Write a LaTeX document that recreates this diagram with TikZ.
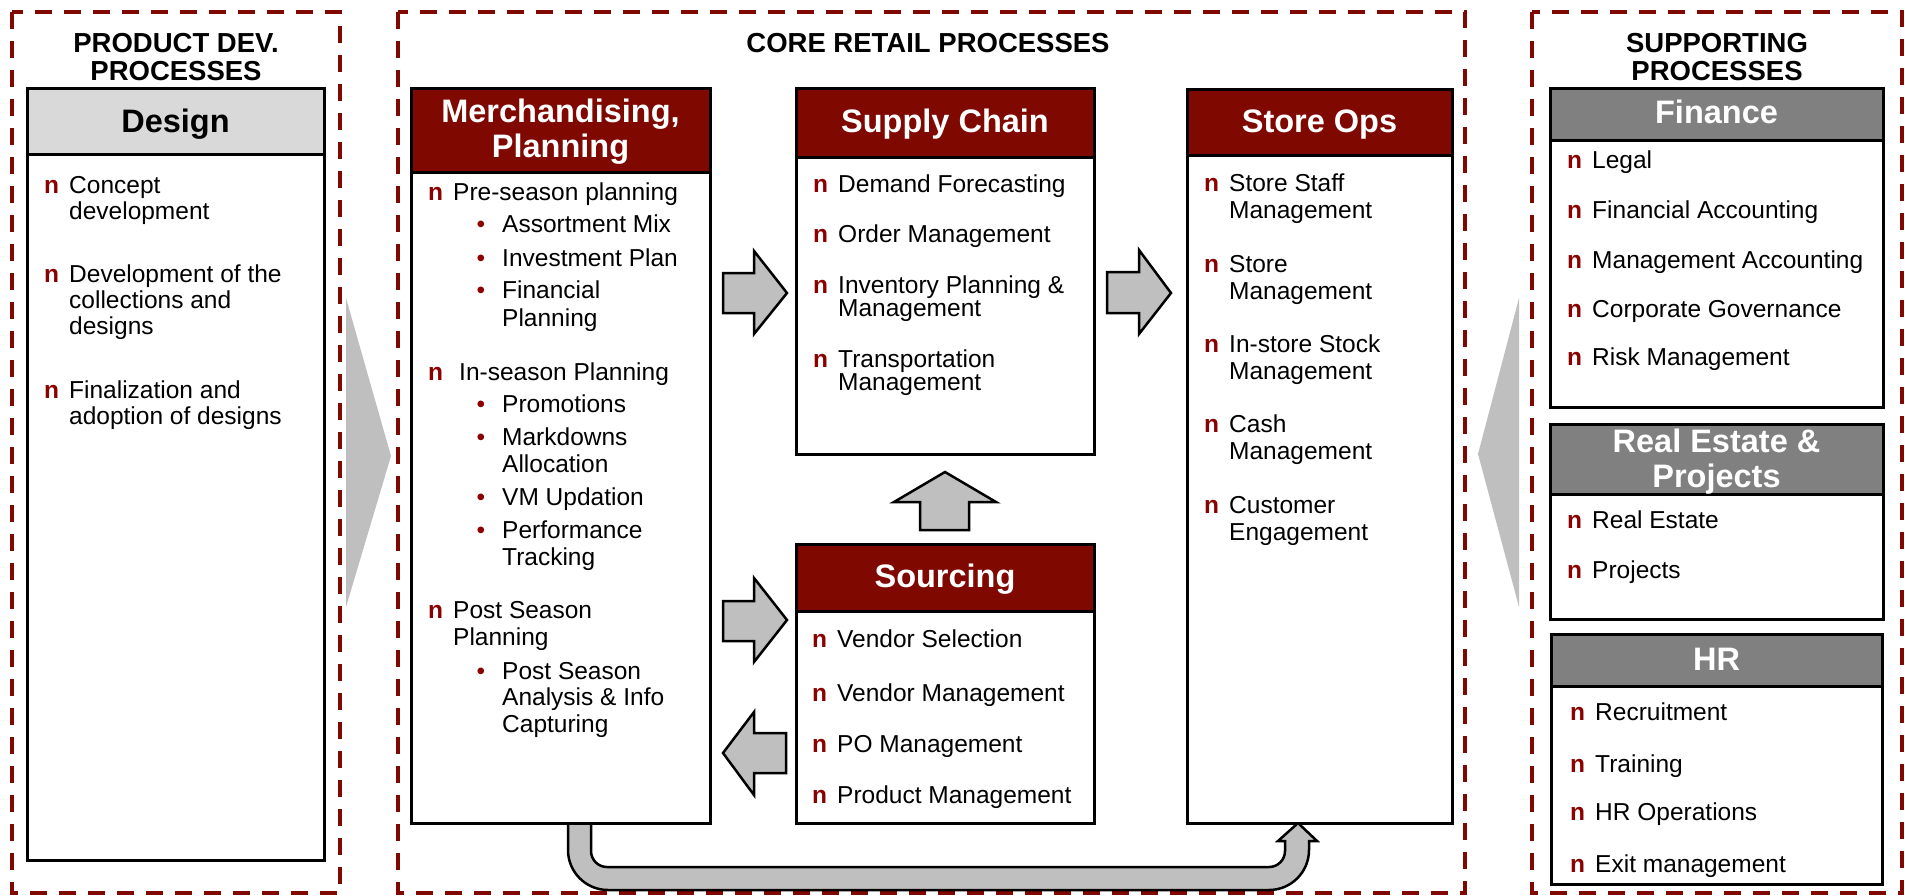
\documentclass[tikz,border=0pt]{standalone}
\usepackage{fontspec}
\setmainfont{Liberation Sans}
\definecolor{dkred}{RGB}{127,8,0}
\definecolor{bulred}{RGB}{139,0,0}
\definecolor{hgray}{RGB}{128,128,128}
\definecolor{lgray}{RGB}{217,217,217}
\definecolor{agray}{RGB}{191,191,191}
\tikzset{
 dashbox/.style={draw=dkred, line width=3.5pt, dash pattern=on 17pt off 12pt},
 box/.style={draw=black, line width=3pt, fill=white, inner sep=0pt, anchor=north west, outer sep=0pt},
 hdr/.style={box, fill=dkred},
 ghdr/.style={box, fill=hgray},
 dhdr/.style={box, fill=lgray},
 htext/.style={text=white, font=\fontsize{32.5}{35}\selectfont\bfseries, inner sep=0pt, anchor=base},
 ttl/.style={font=\fontsize{27.5}{28}\selectfont\bfseries, inner sep=0pt, anchor=base},
 itm/.style={font=\fontsize{24.5}{27}\selectfont, inner sep=0pt, anchor=base west},
 bul/.style={font=\fontsize{24.5}{27}\selectfont\bfseries, text=bulred, inner sep=0pt, anchor=base west},
 dotb/.style={font=\fontsize{24.5}{27}\selectfont, text=bulred, inner sep=0pt, anchor=base},
 blk/.style={draw=black, line width=2.5pt, fill=agray, line join=miter},
 sidetri/.style={fill=agray},
}
\newcommand\li[1]{\hbox{#1}}
\newcommand\entry[5]{\node[bul] (#1b) at (#2,-#4) {n}; \node[itm] (#1) at (#3,-#4) {\vtop{#5}};}
\newcommand\subentry[3]{\node[dotb] (#1b) at (481,-#2) {•}; \node[itm] (#1) at (502,-#2) {\vtop{#3}};}
\begin{document}
\begin{tikzpicture}[x=1pt,y=1pt]
\useasboundingbox (0,0) rectangle (1905,-895);
% dashed group frames
\draw[dashbox] (12,-12) rectangle (340,-893);
\draw[dashbox] (398,-12) rectangle (1465,-893);
\draw[dashbox] (1532,-12) rectangle (1902,-893);
% side triangles
\fill[sidetri] (346,-298) -- (391,-456) -- (346,-607) -- cycle;
\fill[sidetri] (1519,-298) -- (1478,-454) -- (1519,-607) -- cycle;
% titles
\node[ttl] (t1a) at (176,-52) {PRODUCT DEV.};
\node[ttl] (t1b) at (176,-80) {PROCESSES};
\node[ttl] (t2) at (928,-52) {CORE RETAIL PROCESSES};
\node[ttl] (t3a) at (1717,-52) {SUPPORTING};
\node[ttl] (t3b) at (1717,-80) {PROCESSES};
% U-shaped arrow from Merchandising to Store Ops
\draw[blk] (568,-823) -- (568,-850) arc[start angle=180, end angle=270, radius=40pt]
  -- (1269,-890) arc[start angle=270, end angle=360, radius=40pt]
  -- (1309,-841) -- (1317,-841) -- (1298,-823) -- (1278,-841) -- (1285,-841)
  -- (1285,-851) arc[start angle=0, end angle=-90, radius=16pt]
  -- (607,-867) arc[start angle=270, end angle=180, radius=16pt]
  -- (591,-823) -- cycle;
% Design
\node[box, minimum width=297pt, minimum height=772pt] (design) at (27,-88) {};
\node[dhdr, minimum width=297pt, minimum height=66pt] (designh) at (27,-88) {};
\node[htext, text=black] (designt) at (175.5,-132) {Design};
\entry{d1}{44}{69}{193}{\baselineskip=26pt \li{Concept}\li{development}}
\entry{d2}{44}{69}{282}{\baselineskip=26pt \li{Development of the}\li{collections and}\li{designs}}
\entry{d3}{44}{69}{398}{\baselineskip=26pt \li{Finalization and}\li{adoption of designs}}
% Merchandising
\node[box, minimum width=299pt, minimum height=735pt] (merch) at (411,-88) {};
\node[hdr, minimum width=299pt, minimum height=84pt] (merchh) at (411,-88) {};
\node[htext] (mt1) at (560.5,-122) {Merchandising,};
\node[htext] (mt2) at (560.5,-157) {Planning};
\entry{m1}{428}{453}{200}{\li{Pre-season planning}}
\subentry{m1a}{232}{\li{Assortment Mix}}
\subentry{m1b}{266}{\li{Investment Plan}}
\subentry{m1c}{298}{\baselineskip=28pt \li{Financial}\li{Planning}}
\entry{m2}{428}{459}{380}{\li{In-season Planning}}
\subentry{m2a}{412}{\li{Promotions}}
\subentry{m2b}{445}{\li{Markdowns}\li{Allocation}}
\subentry{m2c}{505}{\li{VM Updation}}
\subentry{m2d}{538}{\li{Performance}\li{Tracking}}
\entry{m3}{428}{453}{618}{\li{Post Season}\li{Planning}}
\subentry{m3a}{679}{\baselineskip=26.5pt \li{Post Season}\li{Analysis \& Info}\li{Capturing}}
% Supply chain
\node[box, minimum width=298pt, minimum height=366pt] (sc) at (796,-88) {};
\node[hdr, minimum width=298pt, minimum height=69pt] (sch) at (796,-88) {};
\node[htext] (sct) at (945,-132) {Supply Chain};
\entry{s1}{813}{838}{192}{\li{Demand Forecasting}}
\entry{s2}{813}{838}{242}{\li{Order Management}}
\entry{s3}{813}{838}{293}{\baselineskip=23pt \li{Inventory Planning \&}\li{Management}}
\entry{s4}{813}{838}{367}{\baselineskip=23pt \li{Transportation}\li{Management}}
% Sourcing
\node[box, minimum width=298pt, minimum height=279pt] (src) at (796,-544) {};
\node[hdr, minimum width=298pt, minimum height=67pt] (srch) at (796,-544) {};
\node[htext] (srct) at (945,-587) {Sourcing};
\entry{r1}{812}{837}{647}{\li{Vendor Selection}}
\entry{r2}{812}{837}{701}{\li{Vendor Management}}
\entry{r3}{812}{837}{752}{\li{PO Management}}
\entry{r4}{812}{837}{803}{\li{Product Management}}
% Store Ops
\node[box, minimum width=265pt, minimum height=734pt] (so) at (1187,-89) {};
\node[hdr, minimum width=265pt, minimum height=66pt] (soh) at (1187,-89) {};
\node[htext] (sot) at (1319.5,-132) {Store Ops};
\entry{o1}{1204}{1229}{191}{\li{Store Staff}\li{Management}}
\entry{o2}{1204}{1229}{272}{\li{Store}\li{Management}}
\entry{o3}{1204}{1229}{352}{\li{In-store Stock}\li{Management}}
\entry{o4}{1204}{1229}{432}{\li{Cash}\li{Management}}
\entry{o5}{1204}{1229}{513}{\li{Customer}\li{Engagement}}
% Finance
\node[box, minimum width=333pt, minimum height=319pt] (fin) at (1550,-88) {};
\node[ghdr, minimum width=333pt, minimum height=52pt] (finh) at (1550,-88) {};
\node[htext] (fint) at (1716.5,-123) {Finance};
\entry{f1}{1567}{1592}{168}{\li{Legal}}
\entry{f2}{1567}{1592}{218}{\li{Financial Accounting}}
\entry{f3}{1567}{1592}{268}{\li{Management Accounting}}
\entry{f4}{1567}{1592}{317}{\li{Corporate Governance}}
\entry{f5}{1567}{1592}{365}{\li{Risk Management}}
% Real Estate
\node[box, minimum width=333pt, minimum height=195pt] (re) at (1550,-424) {};
\node[ghdr, minimum width=333pt, minimum height=70pt] (reh) at (1550,-424) {};
\node[htext] (ret1) at (1716.5,-452) {Real Estate \&};
\node[htext] (ret2) at (1716.5,-487) {Projects};
\entry{e1}{1567}{1592}{528}{\li{Real Estate}}
\entry{e2}{1567}{1592}{578}{\li{Projects}}
% HR
\node[box, minimum width=331pt, minimum height=250pt] (hr) at (1551,-634) {};
\node[ghdr, minimum width=331pt, minimum height=52pt] (hrh) at (1551,-634) {};
\node[htext] (hrt) at (1716.5,-670) {HR};
\entry{h1}{1570}{1595}{720}{\li{Recruitment}}
\entry{h2}{1570}{1595}{772}{\li{Training}}
\entry{h3}{1570}{1595}{820}{\li{HR Operations}}
\entry{h4}{1570}{1595}{872}{\li{Exit management}}
% block arrows
\draw[blk] (723,-273) -- (754,-273) -- (754,-251) -- (787,-293) -- (754,-334) -- (754,-313) -- (723,-313) -- cycle;
\draw[blk] (723,-601) -- (754,-601) -- (754,-578) -- (787,-620) -- (754,-662) -- (754,-641) -- (723,-641) -- cycle;
\draw[blk] (786,-733) -- (754,-733) -- (754,-712) -- (723,-753) -- (754,-795) -- (754,-773) -- (786,-773) -- cycle;
\draw[blk] (1107,-272) -- (1139,-272) -- (1139,-250) -- (1171,-293) -- (1139,-334) -- (1139,-313) -- (1107,-313) -- cycle;
\draw[blk] (920,-530) -- (920,-502) -- (894,-502) -- (945,-472) -- (996,-502) -- (969,-502) -- (969,-530) -- cycle;
\end{tikzpicture}
\end{document}
